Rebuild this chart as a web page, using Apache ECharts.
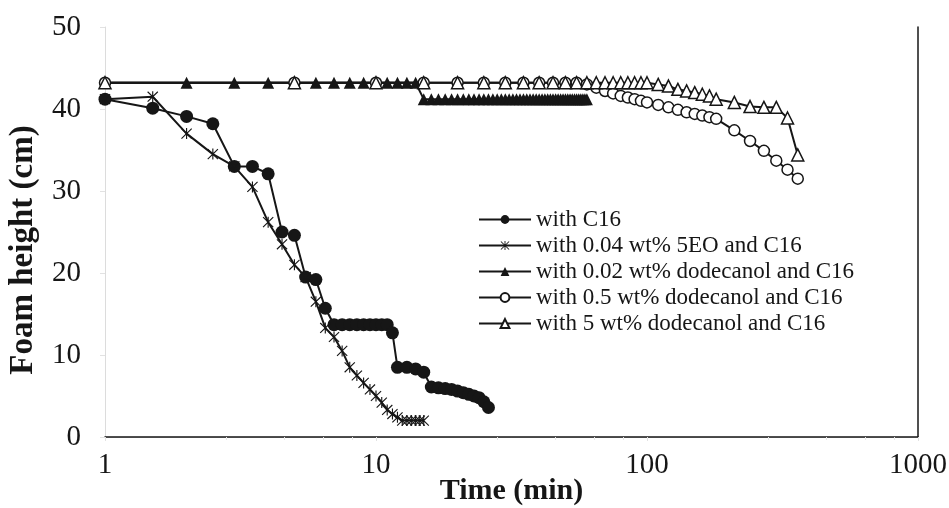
<!DOCTYPE html>
<html>
<head>
<meta charset="utf-8">
<script src="https://cdn.jsdelivr.net/npm/echarts@6/dist/echarts.min.js"></script>
<style>
  html, body { margin: 0; padding: 0; background: #fff; }
  #chart { width: 949px; height: 508px; }
</style>
</head>
<body>
<div id="chart"></div>
<script>
// Foam height decay of C16 foams with different additives (log time axis)
const xTickLabels = ['1', '10', '100', '1000'];
const yTickLabels = ['0', '10', '20', '30', '40', '50'];

const seriesNames = [
  'with C16',
  'with 0.04 wt% 5EO and C16',
  'with 0.02 wt% dodecanol and C16',
  'with 0.5 wt% dodecanol and C16',
  'with 5 wt% dodecanol and C16'
];

// with C16
const c16Time = [1, 1.5, 2, 2.5, 3, 3.5, 4, 4.5, 5, 5.5, 6, 6.5, 7, 7.5, 8, 8.5, 9, 9.5, 10, 10.5, 11,
  11.5, 12, 13, 14, 15, 16, 17, 18, 19, 20, 21, 22, 23, 24, 25, 26];
const c16Height = [41.2, 40.1, 39.1, 38.2, 33.0, 33.0, 32.1, 25.0, 24.6, 19.5, 19.2, 15.7, 13.7, 13.7, 13.7, 13.7, 13.7, 13.7, 13.7, 13.7, 13.7,
  12.7, 8.5, 8.5, 8.3, 7.9, 6.1, 6.0, 5.9, 5.8, 5.6, 5.4, 5.2, 5.0, 4.8, 4.3, 3.6];

// with 0.04 wt% 5EO and C16
const eoTime = [1, 1.5, 2, 2.5, 3, 3.5, 4, 4.5, 5, 5.5, 6, 6.5, 7, 7.5, 8, 8.5, 9, 9.5, 10, 10.5, 11,
  11.5, 12, 12.5, 13, 13.5, 14, 14.5, 15];
const eoHeight = [41.2, 41.5, 37.0, 34.5, 33.0, 30.5, 26.2, 23.5, 21.0, 19.5, 16.5, 13.3, 12.2, 10.5, 8.5, 7.5, 6.6, 5.8, 5.0, 4.2, 3.3,
  2.8, 2.4, 2.0, 2.0, 2.0, 2.0, 2.0, 2.0];

// with 0.02 wt% dodecanol and C16
const dd002Time = [1, 2, 3, 4, 5, 6, 7, 8, 9, 10, 11, 12, 13, 14,
  15, 16, 17, 18, 19, 20, 21, 22, 23, 24, 25, 26, 27, 28, 29, 30, 31, 32, 33, 34, 35, 36, 37,
  38, 39, 40, 41, 42, 43, 44, 45, 46, 47, 48, 49, 50, 51, 52, 53, 54, 55, 56, 57, 58, 59, 60];
const dd002Height = [43.2, 43.2, 43.2, 43.2, 43.2, 43.2, 43.2, 43.2, 43.2, 43.2, 43.2, 43.2, 43.2, 43.2,
  41.2, 41.2, 41.2, 41.2, 41.2, 41.2, 41.2, 41.2, 41.2, 41.2, 41.2, 41.2, 41.2, 41.2, 41.2, 41.2, 41.2, 41.2, 41.2, 41.2, 41.2, 41.2, 41.2,
  41.2, 41.2, 41.2, 41.2, 41.2, 41.2, 41.2, 41.2, 41.2, 41.2, 41.2, 41.2, 41.2, 41.2, 41.2, 41.2, 41.2, 41.2, 41.2, 41.2, 41.2, 41.2, 41.2];

// with 0.5 wt% dodecanol and C16
const dd05Time = [1, 5, 10, 15, 20, 25, 30, 35, 40, 45, 50, 55, 60, 65, 70, 75, 80, 85, 90, 95, 100,
  110, 120, 130, 140, 150, 160, 170, 180, 210, 240, 270, 300, 330, 360];
const dd05Height = [43.2, 43.2, 43.2, 43.2, 43.2, 43.2, 43.2, 43.2, 43.2, 43.2, 43.2, 43.2, 43.0, 42.6, 42.2, 41.9, 41.6, 41.4, 41.2, 41.0, 40.8,
  40.5, 40.2, 39.9, 39.6, 39.4, 39.2, 39.0, 38.8, 37.4, 36.1, 34.9, 33.7, 32.6, 31.5];

// with 5 wt% dodecanol and C16
const dd5Time = [1, 5, 10, 15, 20, 25, 30, 35, 40, 45, 50, 55, 60, 65, 70, 75, 80, 85, 90, 95, 100,
  110, 120, 130, 140, 150, 160, 170, 180, 210, 240, 270, 300, 330, 360];
const dd5Height = [43.2, 43.2, 43.2, 43.2, 43.2, 43.2, 43.2, 43.2, 43.2, 43.2, 43.2, 43.2, 43.2, 43.2, 43.2, 43.2, 43.2, 43.2, 43.2, 43.2, 43.2,
  43.0, 42.8, 42.4, 42.2, 42.0, 41.8, 41.6, 41.2, 40.8, 40.3, 40.2, 40.2, 38.9, 34.4];

const pairs = (xs, ys) => xs.map((x, i) => [x, ys[i]]);

// six-armed asterisk marker: vertical bar plus two diagonals
const asterisk = 'path://M9,0L11,0L11,20L9,20Z' +
  'M1.7,0.3L19.7,18.3L18.3,19.7L0.3,1.7Z' +
  'M18.3,0.3L19.7,1.7L1.7,19.7L0.3,18.3Z';

const ink = '#161616';
const serif = 'Liberation Serif';

const lineStyle = { color: ink, width: 2 };

const chart = echarts.init(document.getElementById('chart'), null, { renderer: 'canvas' });

chart.setOption({
  backgroundColor: '#fff',
  animation: false,
  grid: { left: 105, right: 31, top: 27, bottom: 71, outerBoundsMode: 'none', containLabel: false },
  legend: {
    orient: 'vertical',
    left: 473,
    top: 203,
    itemWidth: 52,
    itemHeight: 11,
    itemGap: 3,
    textStyle: { fontFamily: serif, fontSize: 23, color: ink },
    data: seriesNames
  },
  xAxis: [
    {
      type: 'log',
      logBase: 10,
      min: 1,
      max: 1000,
      position: 'bottom',
      name: 'Time (min)',
      nameLocation: 'middle',
      nameGap: 39,
      nameMoveOverlap: false,
      nameTextStyle: { fontFamily: serif, fontSize: 30, fontWeight: 'bold', color: ink },
      axisLine: { show: true, lineStyle: { color: '#dcdcdc', width: 1 } },
      axisTick: { show: true, length: 4, lineStyle: { color: '#e2e2e2' } },
      minorTick: { show: true, length: 3, lineStyle: { color: '#e6e6e6' } },
      splitLine: { show: false },
      axisLabel: {
        fontFamily: serif, fontSize: 29, color: ink, margin: 14,
        formatter: (v) => xTickLabels.includes(String(v)) ? String(v) : ''
      }
    },
    {
      type: 'log',
      logBase: 10,
      min: 1,
      max: 1000,
      position: 'top',
      axisLine: { show: true, lineStyle: { color: ink, width: 1.5 } },
      axisTick: { show: false },
      axisLabel: { show: false },
      splitLine: { show: false }
    }
  ],
  yAxis: [
    {
      type: 'value',
      min: 0,
      max: 50,
      interval: 10,
      name: 'Foam height (cm)',
      nameLocation: 'middle',
      nameGap: 65,
      nameMoveOverlap: false,
      nameTextStyle: { fontFamily: serif, fontSize: 33, fontWeight: 'bold', color: ink, padding: [0, 36, 0, 0] },
      axisLine: { show: true, lineStyle: { color: '#dcdcdc', width: 1 } },
      axisTick: { show: true, length: 5, lineStyle: { color: '#e2e2e2' } },
      splitLine: { show: false },
      axisLabel: {
        fontFamily: serif, fontSize: 29, color: ink, margin: 24,
        formatter: (v) => yTickLabels[Math.round(v / 10)]
      }
    },
    {
      type: 'value',
      min: 0,
      max: 50,
      position: 'right',
      axisLine: { show: true, lineStyle: { color: ink, width: 1.5 } },
      axisTick: { show: false },
      axisLabel: { show: false },
      splitLine: { show: false }
    }
  ],
  series: [
    {
      name: seriesNames[0], type: 'line', data: pairs(c16Time, c16Height),
      symbol: 'circle', symbolSize: 13,
      itemStyle: { color: ink }, lineStyle
    },
    {
      name: seriesNames[1], type: 'line', data: pairs(eoTime, eoHeight),
      symbol: asterisk, symbolSize: 11,
      itemStyle: { color: ink }, lineStyle
    },
    {
      name: seriesNames[2], type: 'line', data: pairs(dd002Time, dd002Height),
      symbol: 'triangle', symbolSize: 12,
      itemStyle: { color: ink }, lineStyle
    },
    {
      name: seriesNames[3], type: 'line', data: pairs(dd05Time, dd05Height),
      symbol: 'circle', symbolSize: 11,
      itemStyle: { color: '#fff', borderColor: ink, borderWidth: 1.5 }, lineStyle
    },
    {
      name: seriesNames[4], type: 'line', data: pairs(dd5Time, dd5Height),
      symbol: 'triangle', symbolSize: 12,
      itemStyle: { color: '#fff', borderColor: ink, borderWidth: 1.5 }, lineStyle
    }
  ]
});
</script>
</body>
</html>
